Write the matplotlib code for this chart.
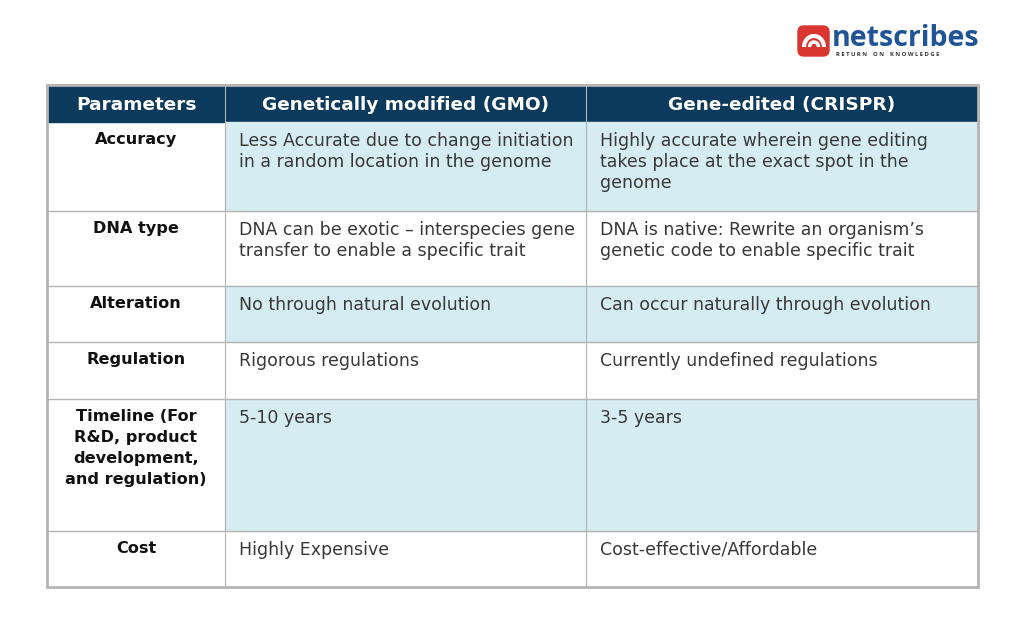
import matplotlib.pyplot as plt
from matplotlib.patches import Rectangle, FancyBboxPatch, Arc

# Table content
headers = ["Parameters", "Genetically modified (GMO)", "Gene-edited (CRISPR)"]
parameters = ["Accuracy", "DNA type", "Alteration", "Regulation",
              "Timeline (For\nR&D, product\ndevelopment,\nand regulation)", "Cost"]
gmo = ["Less Accurate due to change initiation\nin a random location in the genome",
       "DNA can be exotic – interspecies gene\ntransfer to enable a specific trait",
       "No through natural evolution",
       "Rigorous regulations",
       "5-10 years",
       "Highly Expensive"]
crispr = ["Highly accurate wherein gene editing\ntakes place at the exact spot in the\ngenome",
          "DNA is native: Rewrite an organism’s\ngenetic code to enable specific trait",
          "Can occur naturally through evolution",
          "Currently undefined regulations",
          "3-5 years",
          "Cost-effective/Affordable"]
shaded = [True, False, True, False, True, False]

# Layout (pixels)
col_edges = [47, 225, 586, 978]
header_top, header_bottom = 85, 122
row_heights = [89, 75, 56, 57, 132, 56]

navy = "#0b3a5c"
light = "#d6ecf3"
grid = "#b4b4b4"
font = "DejaVu Sans"

fig = plt.figure(figsize=(10.24, 6.23), dpi=100)
ax = fig.add_axes([0, 0, 1, 1])
ax.set_xlim(0, 1024)
ax.set_ylim(623, 0)
ax.axis("off")

# header
ax.add_patch(Rectangle((col_edges[0], header_top), col_edges[-1] - col_edges[0],
                       header_bottom - header_top, color=navy, zorder=1))
for i, h in enumerate(headers):
    xc = (col_edges[i] + col_edges[i + 1]) / 2
    ax.text(xc, (header_top + header_bottom) / 2 + 1, h, color="white", fontsize=13.3,
            fontweight="bold", ha="center", va="center", family=font, zorder=3)

# body rows
y = header_bottom
for r in range(len(parameters)):
    h = row_heights[r]
    if shaded[r]:
        ax.add_patch(Rectangle((col_edges[1], y), col_edges[-1] - col_edges[1], h,
                               color=light, zorder=1))
    ax.text((col_edges[0] + col_edges[1]) / 2, y + 10, parameters[r], fontsize=11.6,
            fontweight="bold", ha="center", va="top", family=font, color="#111111",
            linespacing=1.5, zorder=3)
    ax.text(col_edges[1] + 14, y + 10, gmo[r], fontsize=12.5, ha="left", va="top",
            family=font, color="#383838", linespacing=1.22, zorder=3)
    ax.text(col_edges[2] + 14, y + 10, crispr[r], fontsize=12.5, ha="left", va="top",
            family=font, color="#383838", linespacing=1.22, zorder=3)
    y += h
    if r < len(parameters) - 1:
        ax.plot([col_edges[0], col_edges[-1]], [y, y], color=grid, lw=1, zorder=2)
table_bottom = y

# vertical lines
for xv in col_edges[1:-1]:
    ax.plot([xv, xv], [header_top, table_bottom], color=grid, lw=0.8, zorder=2)
ax.add_patch(Rectangle((col_edges[0], header_top), col_edges[-1] - col_edges[0],
                       table_bottom - header_top, fill=False, ec=grid, lw=2, zorder=4))

# logo
ax.add_patch(FancyBboxPatch((798, 26), 31, 30, boxstyle="round,pad=0,rounding_size=6",
                            color="#d9362f", zorder=3))
ax.add_patch(Arc((814, 47), 20, 22, theta1=180, theta2=360, color="white", lw=3, zorder=4))
ax.add_patch(Arc((814, 47), 9, 10, theta1=180, theta2=360, color="white", lw=2.5, zorder=4))
ax.text(832, 39, "netscribes", fontsize=20.5, fontweight="bold", color="#1f5596",
        ha="left", va="center", family="Open Sans", zorder=3)
ax.text(836, 55, "R E T U R N    O N    K N O W L E D G E", fontsize=4.2, color="#333333",
        ha="left", va="center", family="Open Sans", fontweight="bold", zorder=3)

fig.savefig("out.png", dpi=100, facecolor="white")
